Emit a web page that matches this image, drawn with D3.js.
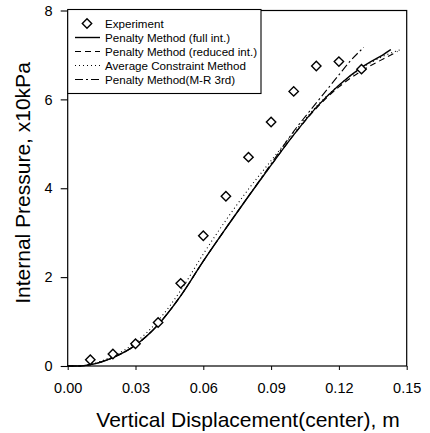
<!DOCTYPE html>
<html>
<head>
<meta charset="utf-8">
<script src="https://cdn.jsdelivr.net/npm/d3@7"></script>
<style>
  html, body { margin: 0; padding: 0; background: #fff; }
  svg { display: block; }
  text { font-family: "Liberation Sans", Arial, sans-serif; fill: #000; }
</style>
</head>
<body>
<svg id="chart" width="430" height="433"></svg>
<script>
// Experimental pressure–displacement points
const expX = [0.01, 0.02, 0.03, 0.04, 0.05, 0.06, 0.07, 0.08, 0.09, 0.10, 0.11, 0.12, 0.13];
const expY = [0.14, 0.27, 0.50, 0.98, 1.86, 2.93, 3.82, 4.70, 5.49, 6.18, 6.75, 6.85, 6.68];

// Penalty method, full integration
const fullX = [0, 0.005, 0.01, 0.02, 0.03, 0.04, 0.05, 0.06, 0.07, 0.08, 0.09, 0.10, 0.11, 0.12, 0.13, 0.14, 0.143];
const fullY = [0, 0.0, 0.03, 0.19, 0.47, 0.93, 1.58, 2.36, 3.10, 3.82, 4.52, 5.20, 5.82, 6.32, 6.72, 7.02, 7.12];

// Penalty method, reduced integration
const redX = [0, 0.005, 0.01, 0.02, 0.03, 0.04, 0.05, 0.06, 0.07, 0.08, 0.09, 0.10, 0.11, 0.12, 0.13, 0.14, 0.146];
const redY = [0, 0.0, 0.03, 0.19, 0.47, 0.93, 1.58, 2.36, 3.10, 3.82, 4.52, 5.20, 5.80, 6.28, 6.64, 6.92, 7.08];

// Average constraint method
const avgX = [0, 0.005, 0.01, 0.02, 0.03, 0.04, 0.05, 0.06, 0.07, 0.08, 0.09, 0.10, 0.11, 0.12, 0.13, 0.14, 0.148];
const avgY = [0, 0.0, 0.04, 0.22, 0.53, 1.02, 1.70, 2.52, 3.28, 3.98, 4.62, 5.25, 5.84, 6.32, 6.70, 6.98, 7.13];

// Penalty method, Mooney-Rivlin 3rd order
const mrX = [0, 0.005, 0.01, 0.02, 0.03, 0.04, 0.05, 0.06, 0.07, 0.08, 0.09, 0.10, 0.11, 0.12, 0.125, 0.131];
const mrY = [0, 0.0, 0.03, 0.19, 0.47, 0.93, 1.58, 2.36, 3.10, 3.82, 4.55, 5.28, 5.92, 6.55, 6.86, 7.17];

const xTicks = [0.00, 0.03, 0.06, 0.09, 0.12, 0.15];
const yTicks = [0, 2, 4, 6, 8];

const legendLabels = [
  "Experiment",
  "Penalty Method (full int.)",
  "Penalty Method (reduced int.)",
  "Average Constraint Method",
  "Penalty Method(M-R 3rd)"
];

const svg = d3.select("#chart");
const M = { left: 67.7, right: 406.7, top: 10.5, bottom: 366 };

const x = d3.scaleLinear().domain([0, 0.15]).range([M.left, M.right]);
const y = d3.scaleLinear().domain([0, 8]).range([M.bottom, M.top]);

// Frame
svg.append("rect")
  .attr("x", M.left).attr("y", M.top)
  .attr("width", M.right - M.left).attr("height", M.bottom - M.top)
  .attr("fill", "none").attr("stroke", "#000").attr("stroke-width", 1.2);

// Axes
const xAxis = d3.axisBottom(x).tickValues(xTicks).tickFormat(d3.format(".2f")).tickSize(4).tickPadding(13);
const gx = svg.append("g").attr("transform", `translate(0,${M.bottom})`).call(xAxis);
gx.select(".domain").remove();
gx.selectAll("text").attr("font-size", 14.5).attr("font-family", "Liberation Sans, Arial, sans-serif");
gx.selectAll("line").attr("stroke-width", 1);

const yAxis = d3.axisLeft(y).tickValues(yTicks).tickFormat(d3.format("d")).tickSize(7).tickPadding(8);
const gy = svg.append("g").attr("transform", `translate(${M.left},0)`).call(yAxis);
gy.select(".domain").remove();
gy.selectAll("text").attr("font-size", 14.5).attr("font-family", "Liberation Sans, Arial, sans-serif");
gy.selectAll("line").attr("stroke-width", 1.1);

// Axis titles
svg.append("text")
  .attr("x", 248).attr("y", 427)
  .attr("text-anchor", "middle").attr("font-size", 21)
  .text("Vertical Displacement(center), m");

svg.append("text")
  .attr("transform", "translate(30,183) rotate(-90)")
  .attr("text-anchor", "middle").attr("font-size", 21)
  .text("Internal Pressure, x10kPa");

// Curves
const line = d3.line().x(d => x(d[0])).y(d => y(d[1])).curve(d3.curveMonotoneX);
const series = [
  { xs: fullX, ys: fullY, dash: null, w: 1.4 },
  { xs: redX, ys: redY, dash: "6,4", w: 1.1 },
  { xs: avgX, ys: avgY, dash: "1,3", w: 1.1 },
  { xs: mrX, ys: mrY, dash: "8,3,2,3", w: 1.1 }
];

const plot = svg.append("g");
plot.selectAll("path.curve")
  .data(series)
  .join("path")
  .attr("class", "curve")
  .attr("d", s => line(s.xs.map((v, i) => [v, s.ys[i]])))
  .attr("fill", "none")
  .attr("stroke", "#000")
  .attr("stroke-width", s => s.w)
  .attr("stroke-dasharray", s => s.dash);

// Experimental diamonds
const diamond = d3.symbol().type(d3.symbolDiamond2).size(56);
plot.selectAll("path.exp")
  .data(expX.map((v, i) => [v, expY[i]]))
  .join("path")
  .attr("class", "exp")
  .attr("d", diamond)
  .attr("transform", d => `translate(${x(d[0])},${y(d[1])})`)
  .attr("fill", "#fff")
  .attr("stroke", "#000")
  .attr("stroke-width", 1.4);

// Legend
const lg = svg.append("g");
const lgTop = 9.5, lgRow = 14, lgFirst = 23.5;
lg.append("rect")
  .attr("x", M.left).attr("y", lgTop)
  .attr("width", 261 - M.left).attr("height", 84)
  .attr("fill", "#fff").attr("stroke", "#000").attr("stroke-width", 1.1);

legendLabels.forEach((label, i) => {
  const cy = lgFirst + i * lgRow;
  if (i === 0) {
    lg.append("path")
      .attr("d", diamond)
      .attr("transform", `translate(87,${cy})`)
      .attr("fill", "#fff").attr("stroke", "#000").attr("stroke-width", 1.4);
  } else {
    const st = series[i - 1];
    lg.append("line")
      .attr("x1", 75).attr("x2", 100).attr("y1", cy).attr("y2", cy)
      .attr("stroke", "#000").attr("stroke-width", st.w)
      .attr("stroke-dasharray", st.dash);
  }
  lg.append("text")
    .attr("x", 105).attr("y", cy + 4.2)
    .attr("font-size", 11.6)
    .text(label);
});
</script>
</body>
</html>
